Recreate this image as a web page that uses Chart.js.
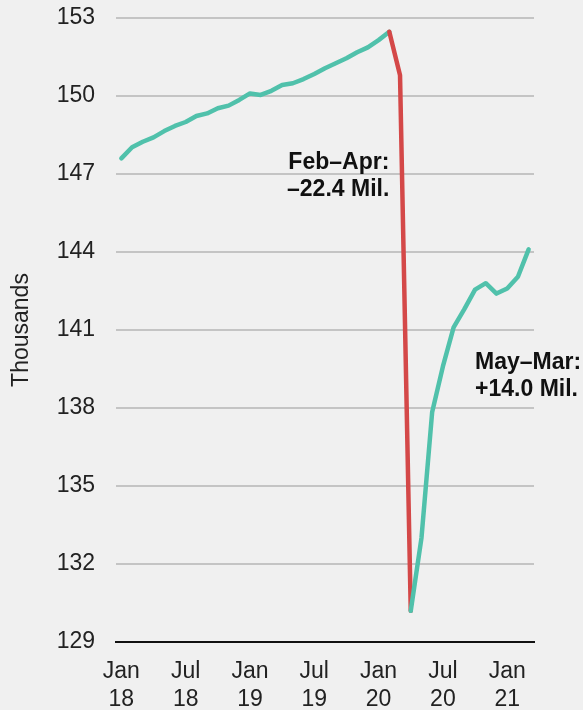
<!DOCTYPE html>
<html>
<head>
<meta charset="utf-8">
<script src="https://cdn.jsdelivr.net/npm/chart.js@4"></script>
<style>
  body { margin: 0; background: #f0f0f0; }
  #wrap { width: 583px; height: 710px; position: relative; }
</style>
</head>
<body>
<div id="wrap"><canvas id="jobsChart"></canvas></div>
<script>
// --- data (thousands of jobs, monthly) ---
const months = [
  'Jan 18','Feb 18','Mar 18','Apr 18','May 18','Jun 18','Jul 18','Aug 18','Sep 18','Oct 18','Nov 18','Dec 18',
  'Jan 19','Feb 19','Mar 19','Apr 19','May 19','Jun 19','Jul 19','Aug 19','Sep 19','Oct 19','Nov 19','Dec 19',
  'Jan 20','Feb 20','Mar 20','Apr 20','May 20','Jun 20','Jul 20','Aug 20','Sep 20','Oct 20','Nov 20','Dec 20',
  'Jan 21','Feb 21','Mar 21'
];
const payrolls = [
  147.60, 148.03, 148.24, 148.41, 148.65, 148.85, 149.00, 149.23, 149.33, 149.53, 149.63, 149.85,
  150.10, 150.04, 150.20, 150.42, 150.49, 150.65, 150.85, 151.07, 151.26, 151.45, 151.68, 151.87,
  152.15, 152.47, 150.80, 130.20, 133.00, 137.85, 139.60, 141.10, 141.80, 142.55, 142.80, 142.40,
  142.60, 143.05, 144.10
];
const yTicks = [129, 132, 135, 138, 141, 144, 147, 150, 153];
const dropStart = 'Feb 20';
const dropEnd = 'Apr 20';

// annotation text, anchored to a month and a value
const notes = [
  { lines: ['Feb\u2013Apr:', '\u201322.4 Mil.'], month: 'Feb 20', value: 147.2, align: 'right' },
  { lines: ['May\u2013Mar:', '+14.0 Mil.'], month: 'Oct 20', value: 139.5, align: 'left' }
];

const TEAL = '#50c1ab';
const RED = '#d44848';
const FONT = '"Liberation Sans", Arial, sans-serif';

const i0 = months.indexOf(dropStart);
const i1 = months.indexOf(dropEnd);

const notePlugin = {
  id: 'notes',
  afterDatasetsDraw(chart) {
    const { ctx, scales: { x, y } } = chart;
    ctx.save();
    ctx.font = 'bold 23px ' + FONT;
    ctx.fillStyle = '#111';
    ctx.textBaseline = 'alphabetic';
    notes.forEach(n => {
      const px = x.getPixelForValue(months.indexOf(n.month));
      const py = y.getPixelForValue(n.value);
      ctx.textAlign = n.align;
      n.lines.forEach((t, k) => ctx.fillText(t, px, py + k * 27));
    });
    ctx.restore();
  }
};

new Chart(document.getElementById('jobsChart'), {
  type: 'line',
  data: {
    labels: months,
    datasets: [{
      data: payrolls,
      borderColor: TEAL,
      borderWidth: 4.5,
      pointRadius: 0,
      tension: 0,
      borderJoinStyle: 'round',
      borderCapStyle: 'round',
      segment: {
        borderColor: c => (c.p0DataIndex >= i0 && c.p0DataIndex < i1) ? RED : TEAL
      }
    }]
  },
  options: {
    responsive: true,
    maintainAspectRatio: false,
    animation: false,
    layout: { padding: { top: 18, right: 49, left: 0, bottom: 0 } },
    plugins: { legend: { display: false }, tooltip: { enabled: false } },
    scales: {
      x: {
        offset: true,
        grid: { display: false, drawTicks: false },
        border: { display: true, color: '#111', width: 2 },
        afterFit: s => { s.height = 68; },
        ticks: {
          autoSkip: false,
          maxRotation: 0,
          padding: 16,
          color: '#222',
          font: { family: FONT, size: 23 },
          callback: (v, i) => i % 6 === 0 ? months[i].split(' ') : ''
        }
      },
      y: {
        min: 129,
        max: 153,
        afterFit: s => { s.width = 116; s.paddingTop = 0; s.paddingBottom = 0; },
        afterBuildTicks: s => { s.ticks = yTicks.map(v => ({ value: v })); },
        grid: { color: '#c4c4c4', lineWidth: 2, drawTicks: false },
        border: { display: false },
        ticks: {
          padding: 21,
          color: '#222',
          font: { family: FONT, size: 23 }
        },
        title: {
          display: true,
          text: 'Thousands',
          color: '#222',
          font: { family: FONT, size: 23 },
          padding: { top: 8, bottom: 0 }
        }
      }
    }
  },
  plugins: [notePlugin]
});
</script>
</body>
</html>
